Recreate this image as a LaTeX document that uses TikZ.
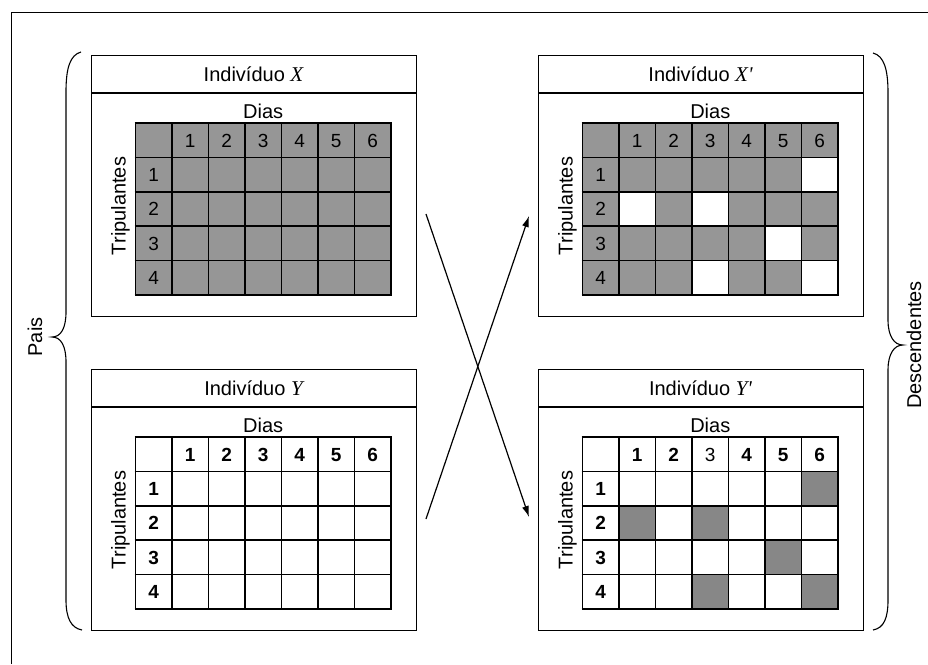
\documentclass[tikz,border=0pt]{standalone}
\usepackage{fontspec}
\setmainfont{Liberation Sans}
\newfontfamily\tms{Liberation Serif}
\usetikzlibrary{arrows.meta}
\definecolor{gA}{HTML}{969696}
\definecolor{gB}{HTML}{878787}
\tikzset{
  panelbox/.style={draw, line width=1.1pt, minimum width=325pt, minimum height=261pt, anchor=north west, inner sep=0pt},
  gridline/.style={line width=1.6pt},
  lbl/.style={font=\fontsize{20}{22}\selectfont, inner sep=0pt},
  num/.style={font=\fontsize{19}{21}\selectfont, inner sep=0pt, anchor=base},
  bracestyle/.style={line width=1.1pt},
  arr/.style={line width=1.2pt, -{Latex[length=11pt,width=7pt]}},
}
\newcommand\hdplain[1]{#1}
\newcommand\hdYp[1]{\ifnum#1=3 \mdseries\fi#1}
\newcommand\vx[1]{{\fontsize{21}{22}\selectfont\tms\itshape #1}}
\newcommand\mkpanel[9]{%
  \node[panelbox] (#1) at (#2,#3) {};
  \draw[line width=1.1pt] ({#2},{#3+38}) -- ({#2+325},{#3+38});
  \node[lbl, anchor=base] (#1-t) at ({#2+162.5},{#3+26.5}) {#4};
  \node[lbl, anchor=base] (#1-d) at ({#2+172.25},{#3+63}) {Dias};
  \node[lbl, anchor=base, rotate=90] (#1-r) at ({#2+34.5},{#3+151}) {Tripulantes};
  \fill[#5] ({#2+44.5},{#3+68}) rectangle ++(255.5,172);
  \foreach \c/\r in {#6} {\fill[#7] ({#2+44.5+\c*36.5},{#3+68+\r*34.4}) rectangle ++(36.5,34.4);}
  \foreach \i in {0,...,7} {\draw[gridline] ({#2+44.5+\i*36.5},{#3+68}) -- ++(0,172);}
  \foreach \i in {0,...,5} {\draw[gridline] ({#2+44.5-0.8},{#3+68+\i*34.4}) -- ++(257.1,0);}
  \foreach \c in {1,...,6} {\node[num,#8] (#1-h\c) at ({#2+44.5+(\c+0.5)*36.5},{#3+68+17.2+6.8}) {#9{\c}};}
  \foreach \r in {1,...,4} {\node[num,#8] (#1-v\r) at ({#2+44.5+18.25},{#3+68+(\r+0.5)*34.4+6.8}) {\r};}
}
\begin{document}
\begin{tikzpicture}[x=1pt,y=-1pt]
  \useasboundingbox (0,0) rectangle (928,664);
  \draw[line width=1pt] (11,664) -- (11,12) -- (928,12);

  \mkpanel{X}{91}{55}{Indivíduo \vx{X}}{gA}{1/1}{gA}{}{\hdplain}
  \mkpanel{Xp}{538}{55}{Indivíduo \vx{X\textquotesingle}}{gA}{6/1,1/2,3/2,5/3,3/4,6/4}{white}{}{\hdplain}
  \mkpanel{Y}{91}{369}{Indivíduo \vx{Y}}{white}{1/1}{white}{font=\fontsize{19}{21}\selectfont\bfseries}{\hdplain}
  \mkpanel{Yp}{538}{369}{Indivíduo \vx{Y\textquotesingle}}{white}{6/1,1/2,3/2,5/3,3/4,6/4}{gB}{font=\fontsize{19}{21}\selectfont\bfseries}{\hdYp}

  % crossing arrows
  \coordinate (a1s) at (426,214);
  \coordinate (a1e) at (529,517);
  \coordinate (a2s) at (426,519);
  \coordinate (a2e) at (529,216);
  \draw[arr] (a1s) -- (a1e);
  \draw[arr] (a2s) -- (a2e);

  % left brace
  \draw[bracestyle] (81,52) .. controls (70,55) and (66,68) .. (66,92)
    -- (66,312) .. controls (66,328) and (61,337) .. (52,337)
    .. controls (61,337) and (66,346) .. (66,362)
    -- (66,600) .. controls (66,618) and (71,628) .. (82,630);
  \node[lbl, anchor=base, rotate=90] (pais) at (42,337) {Pais};

  % right brace
  \draw[bracestyle] (873,53) .. controls (884,56) and (888,69) .. (888,93)
    -- (888,320) .. controls (888,336) and (894,345) .. (903,345)
    .. controls (894,345) and (888,354) .. (888,370)
    -- (888,600) .. controls (888,618) and (884,628) .. (873,630);
  \node[lbl, anchor=base, rotate=90] (desc) at (921,345) {Descendentes};
\end{tikzpicture}
\end{document}
